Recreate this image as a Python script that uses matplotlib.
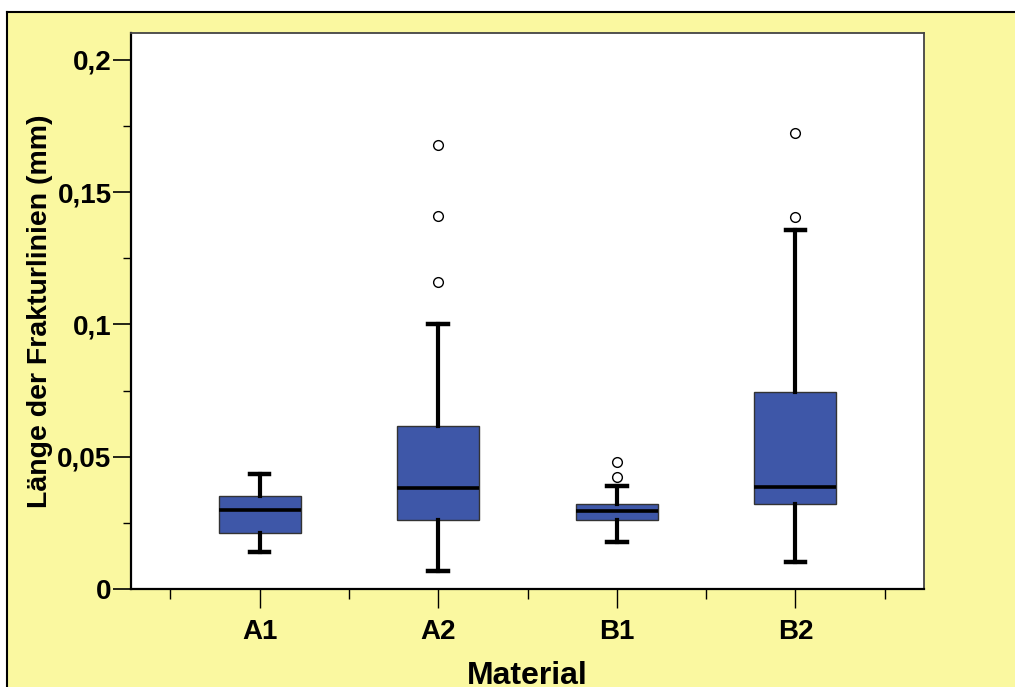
import matplotlib
matplotlib.use('Agg')
import matplotlib.pyplot as plt
from matplotlib.patches import Rectangle
from matplotlib.lines import Line2D
from matplotlib.ticker import MultipleLocator, FixedLocator

# Kennwerte der Boxplots je Material (mm)
materialien = ['A1', 'A2', 'B1', 'B2']
minimum = [0.0140, 0.0067, 0.0178, 0.0103]
q1 = [0.0212, 0.0261, 0.0262, 0.0323]
median = [0.0299, 0.0381, 0.0294, 0.0384]
q3 = [0.0352, 0.0616, 0.0323, 0.0746]
maximum = [0.0435, 0.1002, 0.0389, 0.1357]
ausreisser = [[], [0.1162, 0.1411, 0.1679], [0.0422, 0.0480], [0.1408, 0.1723]]

y_ticks = [0, 0.05, 0.1, 0.15, 0.2]
y_labels = ['0', '0,05', '0,1', '0,15', '0,2']

plt.rcParams['font.family'] = ['Liberation Sans', 'DejaVu Sans']
plt.rcParams['font.weight'] = 'bold'

fig = plt.figure(figsize=(10.15, 6.87), dpi=100)
fig.patch.set_facecolor('#FAF8A0')

# weisser Rand oben und links, schwarze Rahmenlinie
x0 = 7 / 1015
y0 = 1 - 12 / 687
fig.add_artist(Rectangle((0, y0), 1, 1 - y0, transform=fig.transFigure,
                         facecolor='white', edgecolor='none', zorder=-5))
fig.add_artist(Rectangle((0, 0), x0, 1, transform=fig.transFigure,
                         facecolor='white', edgecolor='none', zorder=-5))
fig.add_artist(Line2D([x0, 1], [y0, y0], transform=fig.transFigure,
                      color='black', linewidth=1.5, zorder=-4))
fig.add_artist(Line2D([x0, x0], [0, y0], transform=fig.transFigure,
                      color='black', linewidth=1.5, zorder=-4))

ax = fig.add_axes([131 / 1015, 1 - 589 / 687, 793 / 1015, 556 / 687])
ax.set_facecolor('white')

stats = []
for i, name in enumerate(materialien):
    stats.append({
        'label': name,
        'whislo': minimum[i],
        'q1': q1[i],
        'med': median[i],
        'q3': q3[i],
        'whishi': maximum[i],
        'fliers': ausreisser[i],
    })

ax.bxp(stats, positions=[1, 2, 3, 4], widths=0.46, capwidths=0.11,
       patch_artist=True,
       boxprops=dict(facecolor='#3E57A8', edgecolor='#333333', linewidth=1.0),
       medianprops=dict(color='black', linewidth=2.6),
       whiskerprops=dict(color='black', linewidth=3.0),
       capprops=dict(color='black', linewidth=3.2),
       flierprops=dict(marker='o', markersize=7, markerfacecolor='white',
                       markeredgecolor='black', markeredgewidth=1.0))

ax.set_xlim(0.28, 4.72)
ax.set_ylim(0, 0.2102)

ax.set_yticks(y_ticks)
ax.set_yticklabels(y_labels)
ax.yaxis.set_minor_locator(MultipleLocator(0.025))
ax.xaxis.set_minor_locator(FixedLocator([0.5, 1.5, 2.5, 3.5, 4.5]))

ax.tick_params(axis='y', which='major', length=13, width=1.2, pad=1, labelsize=20)
ax.tick_params(axis='y', which='minor', length=6, width=1.0)
ax.tick_params(axis='x', which='major', length=13.5, width=1.0, pad=8, labelsize=20)
ax.tick_params(axis='x', which='minor', length=7, width=1.0)

for side in ['left', 'bottom']:
    ax.spines[side].set_linewidth(1.6)
    ax.spines[side].set_color('black')
for side in ['top', 'right']:
    ax.spines[side].set_linewidth(1.3)
    ax.spines[side].set_color('#444444')

ax.set_ylabel('Länge der Frakturlinien (mm)', fontsize=20.5, fontweight='bold')
ax.yaxis.set_label_coords(-0.098, 0.5)
ax.set_xlabel('Material', fontsize=23, fontweight='bold')
ax.xaxis.set_label_coords(0.5, -0.129)

plt.savefig('out.png', dpi=100)
plt.close()
